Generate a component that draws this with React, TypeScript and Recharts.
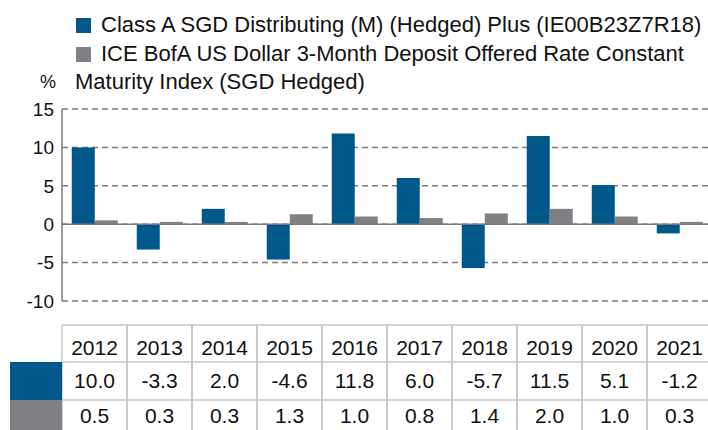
import { Bar, BarChart, CartesianGrid, Legend, ReferenceLine, XAxis, YAxis } from 'recharts'

// ── data ──
const years = ['2012', '2013', '2014', '2015', '2016', '2017', '2018', '2019', '2020', '2021']
const fundReturns = [10.0, -3.3, 2.0, -4.6, 11.8, 6.0, -5.7, 11.5, 5.1, -1.2]
const indexReturns = [0.5, 0.3, 0.3, 1.3, 1.0, 0.8, 1.4, 2.0, 1.0, 0.3]
const yTicks = [-10, -5, 0, 5, 10, 15]
const fundName = 'Class A SGD Distributing (M) (Hedged) Plus (IE00B23Z7R18)'
const indexName = 'ICE BofA US Dollar 3-Month Deposit Offered Rate Constant Maturity Index (SGD Hedged)'

const BLUE = '#00578a'
const GREY = '#808184'
const LINE = '#7a7a7a'
const TABLE_LINE = '#c6c6c6'
const FONT = '"Liberation Sans", Arial, Helvetica, sans-serif'

// layout
const W = 712
const H = 440
const PLOT_LEFT = 62
const PLOT_TOP = 109
const PLOT_BOTTOM = 301
const COL_W = (W - PLOT_LEFT) / years.length
const TABLE_TOP = 325
const ROW1 = 362
const ROW2 = 400

const data = years.map((year, i) => ({
  year,
  fund: fundReturns[i],
  index: indexReturns[i],
}))

const fmt = (v: number) => v.toFixed(1)

/* table column under each category, placed with the x-axis scale */
function TableTick(props: any) {
  const { x, index, payload } = props
  const l = x - COL_W / 2
  const r = x + COL_W / 2
  return (
    <g>
      <line x1={l} y1={TABLE_TOP} x2={l} y2={H} stroke={TABLE_LINE} strokeWidth={1.5} />
      <line x1={r} y1={TABLE_TOP} x2={r} y2={H} stroke={TABLE_LINE} strokeWidth={1.5} />
      <line x1={l} y1={TABLE_TOP} x2={r} y2={TABLE_TOP} stroke={TABLE_LINE} strokeWidth={1.5} />
      <line x1={l} y1={ROW1} x2={r} y2={ROW1} stroke={TABLE_LINE} strokeWidth={1.5} />
      <line x1={l} y1={ROW2} x2={r} y2={ROW2} stroke={TABLE_LINE} strokeWidth={1.5} />
      <text x={x} y={355} textAnchor="middle" fontSize={21} fill="#111" fontFamily={FONT}>
        {payload.value}
      </text>
      <text x={x} y={388} textAnchor="middle" fontSize={21} fill="#111" fontFamily={FONT}>
        {fmt(fundReturns[index])}
      </text>
      <text x={x} y={423} textAnchor="middle" fontSize={21} fill="#111" fontFamily={FONT}>
        {fmt(indexReturns[index])}
      </text>
    </g>
  )
}

function LegendBox() {
  const items = [
    { name: fundName, color: BLUE, nowrap: true },
    { name: indexName, color: GREY, nowrap: false },
  ]
  return (
    <div style={{ width: 630, fontFamily: FONT, fontSize: 22, lineHeight: '28.5px', color: '#111' }}>
      {items.map((it) => (
        <div key={it.name} style={{ whiteSpace: it.nowrap ? 'nowrap' : 'normal' }}>
          <span
            style={{
              display: 'inline-block',
              width: 15,
              height: 15,
              background: it.color,
              marginLeft: 1,
              marginRight: 10,
              verticalAlign: -1,
            }}
          />
          {it.name}
        </div>
      ))}
    </div>
  )
}

export default function App() {
  return (
    <div
      style={{
        position: 'absolute',
        left: 0,
        top: 0,
        width: 708,
        height: 430,
        overflow: 'hidden',
        background: '#fff',
        fontFamily: FONT,
      }}
    >
      <BarChart
        width={W}
        height={H}
        data={data}
        margin={{ top: PLOT_TOP, right: 0, bottom: 0, left: 0 }}
        barCategoryGap="15%"
        barGap={0}
      >
        <CartesianGrid vertical={false} stroke={LINE} strokeDasharray="6 4" strokeWidth={1.5} />
        <YAxis
          width={PLOT_LEFT}
          domain={[-10, 15]}
          ticks={yTicks}
          interval={0}
          axisLine={{ stroke: LINE, strokeWidth: 1.5 }}
          tickLine={false}
          tick={{ fontSize: 19, fill: '#111', fontFamily: FONT }}
        />
        <XAxis
          dataKey="year"
          height={H - PLOT_BOTTOM}
          axisLine={false}
          tickLine={false}
          interval={0}
          tick={<TableTick />}
        />
        <Legend
          layout="vertical"
          verticalAlign="middle"
          align="center"
          wrapperStyle={{ position: 'absolute', top: 11, left: 75, width: 630 }}
          content={() => <LegendBox />}
        />
        <Bar dataKey="fund" name={fundName} fill={BLUE} isAnimationActive={false} />
        <Bar dataKey="index" name={indexName} fill={GREY} isAnimationActive={false} />
        <ReferenceLine y={0} stroke={LINE} strokeWidth={1.5} />
      </BarChart>
      <div style={{ position: 'absolute', left: 40, top: 72, fontSize: 18, color: '#111' }}>%</div>
      <div style={{ position: 'absolute', left: 10, top: ROW1, width: PLOT_LEFT - 10, height: ROW2 - ROW1, background: BLUE }} />
      <div style={{ position: 'absolute', left: 10, top: ROW2, width: PLOT_LEFT - 10, height: H - ROW2, background: GREY }} />
    </div>
  )
}
